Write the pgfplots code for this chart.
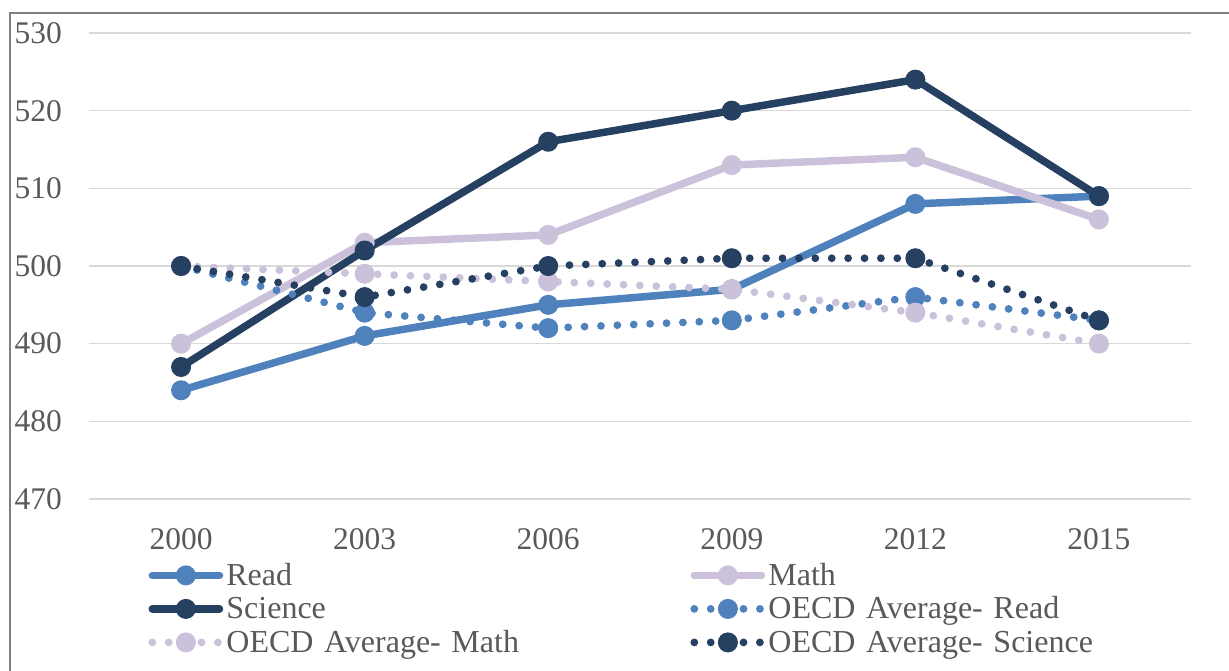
\documentclass[border=0pt]{standalone}
\usepackage{pgfplots}
\pgfplotsset{compat=1.18}
\usepackage{fontspec}
\setmainfont{Liberation Serif}
\definecolor{tickgray}{HTML}{595959}
\definecolor{gridgray}{HTML}{D9D9D9}
\definecolor{framegray}{HTML}{7F7F7F}
\definecolor{readblue}{HTML}{4F81BD}
\definecolor{mathlav}{HTML}{CCC1DA}
\definecolor{scinavy}{HTML}{254061}
\begin{document}
\begin{tikzpicture}
\path[use as bounding box] (-44.65pt,-85.5pt) rectangle (569.85pt,249.5pt);
\clip (-44.65pt,-85.5pt) rectangle (569.85pt,249.5pt);
\draw[framegray, line width=1pt] (-39.65pt,-150pt) -- (-39.65pt,243pt) -- (650pt,243pt);
\begin{axis}[
  at={(0pt,0pt)}, anchor=south west,
  scale only axis, width=550.7pt, height=233pt,
  xmin=-0.5, xmax=5.5, ymin=470, ymax=530,
  xtick={0,1,2,3,4,5},
  xticklabels={2000,2003,2006,2009,2012,2015},
  ytick={470,480,490,500,510,520,530},
  axis line style={draw=none},
  major tick length=0pt,
  ymajorgrids, grid style={gridgray, line width=0.75pt},
  /pgf/number format/assume math mode=true,
  /pgf/number format/1000 sep={},
  tick label style={font=\fontsize{15.75}{18}\selectfont, text=tickgray},
  yticklabel style={anchor=west, inner sep=0pt, xshift=-37.5pt},
  xticklabel style={anchor=north, inner sep=0pt, yshift=-14.5pt},
  legend columns=2,
  legend cell align=left,
  legend style={at={(0.0533,-0.1309)}, anchor=north west, draw=none, fill=none,
    inner sep=0pt, row sep=1.75pt, column sep=0pt,
    font=\fontsize{16}{18}\selectfont, text=tickgray,
    nodes={inner xsep=1.5pt, inner ysep=0pt, text height=12.5pt, text depth=2.5pt, text width=230.5pt, align=left}},
  legend image code/.code={\draw[mark repeat=2,mark phase=2,#1] plot coordinates {(0pt,0pt) (16.8pt,0pt) (33.6pt,0pt)};},
  solidline/.style={line width=3.75pt, line cap=round, line join=round, mark=*, mark size=4.75pt, mark options={solid, line width=0.5pt}},
  dotline/.style={line width=3.9pt, line cap=round, dash pattern=on 0pt off 8.2pt, mark=*, mark size=4.75pt, mark options={solid, line width=0.5pt}},
]
\addplot[solidline, color=readblue] coordinates {(0,484) (1,491) (2,495) (3,497) (4,508) (5,509)};
\addlegendentry{Read}
\addplot[solidline, color=mathlav] coordinates {(0,490) (1,503) (2,504) (3,513) (4,514) (5,506)};
\addlegendentry{Math}
\addplot[solidline, color=scinavy] coordinates {(0,487) (1,502) (2,516) (3,520) (4,524) (5,509)};
\addlegendentry{Science}
\addplot[dotline, color=readblue] coordinates {(0,500) (1,494) (2,492) (3,493) (4,496) (5,493)};
\addlegendentry{OECD Average- Read}
\addplot[dotline, color=mathlav] coordinates {(0,500) (1,499) (2,498) (3,497) (4,494) (5,490)};
\addlegendentry{OECD Average- Math}
\addplot[dotline, color=scinavy] coordinates {(0,500) (1,496) (2,500) (3,501) (4,501) (5,493)};
\addlegendentry{OECD Average- Science}
\end{axis}
\end{tikzpicture}
\end{document}
